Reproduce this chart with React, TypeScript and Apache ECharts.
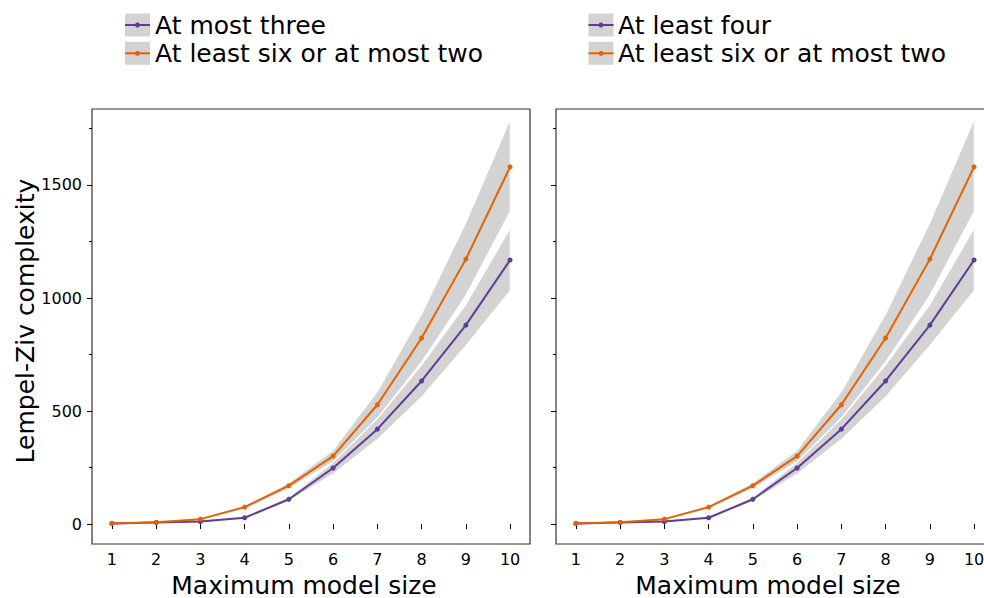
import React, { useEffect, useRef } from "react";
import * as echarts from "echarts";

// Maximum model size (x values)
const MODEL_SIZES = [1, 2, 3, 4, 5, 6, 7, 8, 9, 10];

// Left panel: "At most three"
const AT_MOST_THREE_MEAN = [3, 7, 11, 28, 110, 248, 420, 633, 880, 1168];
const AT_MOST_THREE_LOW = [1, 5, 8, 24, 102, 222, 375, 563, 790, 1033];
const AT_MOST_THREE_HIGH = [5, 9, 14, 32, 118, 272, 465, 703, 970, 1307];

// Right panel: "At least four"
const AT_LEAST_FOUR_MEAN = [3, 7, 11, 28, 110, 248, 420, 633, 880, 1168];
const AT_LEAST_FOUR_LOW = [1, 5, 8, 24, 102, 222, 375, 563, 790, 1033];
const AT_LEAST_FOUR_HIGH = [5, 9, 14, 32, 118, 272, 465, 703, 970, 1307];

// Both panels: "At least six or at most two"
const SIX_OR_TWO_MEAN = [3, 8, 22, 75, 170, 301, 528, 823, 1172, 1580];
const SIX_OR_TWO_LOW = [1, 6, 18, 68, 158, 276, 470, 718, 1012, 1383];
const SIX_OR_TWO_HIGH = [5, 10, 26, 82, 182, 326, 585, 928, 1332, 1787];

const X_TICKS = [1, 2, 3, 4, 5, 6, 7, 8, 9, 10];
const Y_MAJOR_TICKS = [0, 500, 1000, 1500];
const Y_MINOR_TICKS = [250, 750, 1250, 1750];

const PURPLE = "#5e3c99";
const ORANGE = "#e66101";
const BAND = "#d3d3d3";
const FONT = "DejaVu Sans";

function bandSeries(name: string, xAxisIndex: number, yAxisIndex: number, low: number[], high: number[], z: number) {
  const data = MODEL_SIZES.map((x, i) => [x, low[i], high[i]]);
  return {
    type: "custom",
    name,
    xAxisIndex,
    yAxisIndex,
    z,
    silent: true,
    data,
    encode: { x: 0, y: [1, 2] },
    renderItem: (params: any, api: any) => {
      if (params.dataIndex !== 0) return { type: "group", children: [] };
      const upper = data.map((d) => api.coord([d[0], d[2]]));
      const lower = data.map((d) => api.coord([d[0], d[1]])).reverse();
      return {
        type: "polygon",
        shape: { points: upper.concat(lower) },
        style: { fill: BAND, stroke: "#ffffff", lineWidth: 0.8 },
      };
    },
  };
}

function lineSeries(name: string, xAxisIndex: number, yAxisIndex: number, values: number[], color: string) {
  return {
    type: "line",
    name,
    xAxisIndex,
    yAxisIndex,
    z: 5,
    data: MODEL_SIZES.map((x, i) => [x, values[i]]),
    symbol: "circle",
    symbolSize: 5,
    showSymbol: true,
    lineStyle: { color, width: 2 },
    itemStyle: { color },
  };
}

function yAxes(gridIndex: number, showLabels: boolean) {
  const base = {
    type: "value",
    gridIndex,
    position: "left",
    min: -88,
    max: 1836,
    axisLine: { show: false },
    splitLine: { show: false },
  };
  return [
    {
      ...base,
      axisTick: { show: true, customValues: Y_MAJOR_TICKS, length: 5, lineStyle: { color: "#000", width: 1 } },
      axisLabel: {
        show: showLabels,
        customValues: Y_MAJOR_TICKS,
        formatter: (v: number) => String(v),
        fontSize: 16,
        color: "#000",
        margin: 10,
        fontFamily: FONT,
      },
    },
    {
      ...base,
      axisTick: { show: true, customValues: Y_MINOR_TICKS, length: 3, lineStyle: { color: "#000", width: 1 } },
      axisLabel: { show: false, customValues: Y_MINOR_TICKS },
    },
  ];
}

function xAxis(gridIndex: number) {
  return {
    type: "value",
    gridIndex,
    min: 0.55,
    max: 10.45,
    axisLine: { show: false },
    splitLine: { show: false },
    axisTick: { show: true, customValues: X_TICKS, length: 5, lineStyle: { color: "#000", width: 1 } },
    axisLabel: { show: true, customValues: X_TICKS, fontSize: 16, color: "#000", margin: 7, fontFamily: FONT },
  };
}

function legendItems(patchX: number, textX: number, labels: string[], colors: string[]) {
  const rows = [25, 53.3];
  const out: any[] = [];
  labels.forEach((label, i) => {
    const cy = rows[i];
    out.push({ type: "rect", shape: { x: patchX, y: cy - 11.5, width: 25, height: 23 }, style: { fill: BAND } });
    out.push({ type: "line", shape: { x1: patchX, y1: cy, x2: patchX + 25, y2: cy }, style: { stroke: colors[i], lineWidth: 2 } });
    out.push({ type: "circle", shape: { cx: patchX + 12.5, cy, r: 2.5 }, style: { fill: colors[i] } });
    out.push({
      type: "text",
      x: textX,
      y: cy,
      style: { text: label, fontSize: 25, fontFamily: FONT, fill: "#000", verticalAlign: "middle", align: "left" },
    });
  });
  return out;
}

export default function App() {
  const ref = useRef<HTMLDivElement>(null);

  useEffect(() => {
    if (!ref.current) return;
    const chart = echarts.init(ref.current, undefined, { renderer: "svg" });
    const gridStyle = { show: true, borderColor: "#333", borderWidth: 1.2, backgroundColor: "transparent" };
    chart.setOption({
      animation: false,
      backgroundColor: "#ffffff",
      grid: [
        { left: 92, top: 109, width: 438, height: 435, ...gridStyle },
        { left: 556, top: 109, width: 438, height: 435, ...gridStyle },
      ],
      xAxis: [xAxis(0), xAxis(1)],
      yAxis: [...yAxes(0, true), ...yAxes(1, false)],
      series: [
        bandSeries("At most three", 0, 0, AT_MOST_THREE_LOW, AT_MOST_THREE_HIGH, 1),
        bandSeries("At least six or at most two", 0, 0, SIX_OR_TWO_LOW, SIX_OR_TWO_HIGH, 2),
        lineSeries("At most three", 0, 0, AT_MOST_THREE_MEAN, PURPLE),
        lineSeries("At least six or at most two", 0, 0, SIX_OR_TWO_MEAN, ORANGE),
        bandSeries("At least four", 1, 2, AT_LEAST_FOUR_LOW, AT_LEAST_FOUR_HIGH, 1),
        bandSeries("At least six or at most two", 1, 2, SIX_OR_TWO_LOW, SIX_OR_TWO_HIGH, 2),
        lineSeries("At least four", 1, 2, AT_LEAST_FOUR_MEAN, PURPLE),
        lineSeries("At least six or at most two", 1, 2, SIX_OR_TWO_MEAN, ORANGE),
      ],
      graphic: [
        ...legendItems(125, 155, ["At most three", "At least six or at most two"], [PURPLE, ORANGE]),
        ...legendItems(588.5, 618, ["At least four", "At least six or at most two"], [PURPLE, ORANGE]),
        {
          type: "text",
          x: 304,
          y: 585,
          style: { text: "Maximum model size", fontSize: 25, fontFamily: FONT, fill: "#000", align: "center", verticalAlign: "middle" },
        },
        {
          type: "text",
          x: 768,
          y: 585,
          style: { text: "Maximum model size", fontSize: 25, fontFamily: FONT, fill: "#000", align: "center", verticalAlign: "middle" },
        },
        {
          type: "text",
          x: 25,
          y: 321,
          rotation: Math.PI / 2,
          style: { text: "Lempel-Ziv complexity", fontSize: 25, fontFamily: FONT, fill: "#000", align: "center", verticalAlign: "middle" },
        },
      ],
    });
    return () => chart.dispose();
  }, []);

  // The right panel runs past the page edge, so the chart is wider than its frame.
  return (
    <div style={{ position: "fixed", left: 0, top: 0, width: 984, height: 598, overflow: "hidden", background: "#fff" }}>
      <div ref={ref} style={{ width: 1010, height: 598 }} />
    </div>
  );
}
